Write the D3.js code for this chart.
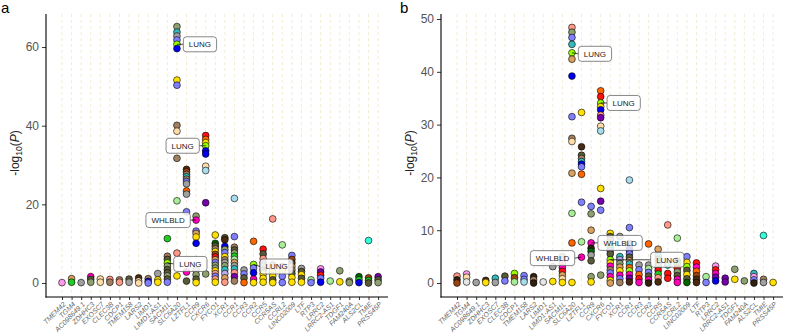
<!DOCTYPE html>
<html><head><meta charset="utf-8">
<script src="https://cdn.jsdelivr.net/npm/d3@7"></script>
<style>body{margin:0;background:#fff} svg{display:block}</style>
</head><body><svg id="c" width="789" height="335"></svg>
<script>
const genes = ["TMEM42","TGM4","AC098649.1","ZDHHC3","EXOSC7","CLEC3B","CDCP1","TMEM158","LARS2","LIMD1","LIMD1-AS1","SACM1L","SLC6A20","LZTFL1","CCR9","CXCR6","FYCO1","XCR1","CCR1","CCR3","CCR2","CCR5","CCR5AS","CCRL2","LINC02009","LTF","RTP3","LRRC2","LRRC2-AS1","TDGF1","FAM240A","ALS2CL","TMIE","PRSS45P"];

// tissue codes and their colours
const tissueCodes  = ["L","W","y","b","p","g","o","s","t","T","w","r","n","c","a","S","v","k","G","D","d","B","q","m","x","h","e"];
const tissueColors = ["#99FF00","#FF00BB","#FFE000","#0000EE","#8080FF","#A0A0A0","#5A5A38","#8FA070","#A08060","#D9A060","#FFDDA8","#FF1010","#FF6600","#33BBBB","#A8DDEE","#FF9988","#7700AA","#FF99EE","#22CC22","#006600","#4A2A10","#994411","#33FFDD","#A8EE98","#302010","#E6E6E6","#BBAAEE"];

// panel a: [gene, -log10(P), tissue]
const pointsA = [
 ["TMEM42",0.1,"k"],
 ["TGM4",1.1,"T"],["TGM4",0.2,"G"],
 ["AC098649.1",0.1,"g"],
 ["ZDHHC3",1.6,"W"],["ZDHHC3",0.9,"o"],["ZDHHC3",0.2,"s"],
 ["EXOSC7",1.0,"w"],["EXOSC7",0.2,"w"],
 ["CLEC3B",0.9,"S"],["CLEC3B",0.2,"t"],
 ["CDCP1",0.8,"t"],["CDCP1",0.2,"S"],
 ["TMEM158",1.0,"o"],["TMEM158",0.2,"g"],
 ["LARS2",1.3,"d"],["LARS2",0.5,"w"],["LARS2",0.0,"w"],
 ["LIMD1",1.1,"t"],["LIMD1",0.4,"b"],["LIMD1",0.0,"p"],
 ["LIMD1-AS1",2.4,"g"],["LIMD1-AS1",0.8,"y"],["LIMD1-AS1",0.2,"y"],
 ["SACM1L",11.3,"G"],["SACM1L",6.8,"t"],["SACM1L",6.0,"o"],["SACM1L",5.1,"L"],["SACM1L",4.3,"s"],["SACM1L",3.4,"o"],["SACM1L",2.6,"o"],["SACM1L",1.8,"s"],["SACM1L",1.0,"o"],["SACM1L",0.2,"p"],
 ["SLC6A20",65.2,"s"],["SLC6A20",63.8,"c"],["SLC6A20",62.8,"g"],["SLC6A20",61.8,"p"],["SLC6A20",60.7,"L"],["SLC6A20",59.6,"b"],["SLC6A20",51.6,"y"],["SLC6A20",50.3,"p"],["SLC6A20",40.1,"t"],["SLC6A20",38.6,"w"],["SLC6A20",31.7,"t"],["SLC6A20",20.9,"m"],["SLC6A20",7.6,"S"],["SLC6A20",1.8,"y"],
 ["LZTFL1",28.9,"d"],["LZTFL1",28.3,"B"],["LZTFL1",27.6,"t"],["LZTFL1",27.0,"c"],["LZTFL1",26.4,"t"],["LZTFL1",25.8,"p"],["LZTFL1",25.2,"g"],["LZTFL1",23.4,"n"],["LZTFL1",22.6,"g"],["LZTFL1",18.1,"p"],["LZTFL1",2.8,"W"],["LZTFL1",0.5,"o"],
 ["CCR9",17.0,"s"],["CCR9",16.0,"W"],["CCR9",13.2,"p"],["CCR9",12.6,"T"],["CCR9",11.7,"y"],["CCR9",10.1,"b"],["CCR9",3.3,"g"],["CCR9",2.1,"s"],["CCR9",1.0,"o"],["CCR9",0.1,"y"],
 ["CXCR6",37.5,"r"],["CXCR6",36.5,"n"],["CXCR6",35.7,"y"],["CXCR6",34.9,"L"],["CXCR6",33.6,"b"],["CXCR6",32.8,"b"],["CXCR6",29.7,"w"],["CXCR6",28.6,"a"],["CXCR6",20.4,"v"],["CXCR6",2.3,"s"],
 ["FYCO1",12.2,"y"],["FYCO1",10.1,"D"],["FYCO1",9.4,"o"],["FYCO1",8.7,"t"],["FYCO1",8.0,"y"],["FYCO1",7.3,"B"],["FYCO1",6.6,"r"],["FYCO1",5.9,"T"],["FYCO1",5.2,"p"],["FYCO1",4.5,"s"],["FYCO1",3.8,"s"],["FYCO1",3.1,"y"],["FYCO1",2.4,"S"],["FYCO1",1.7,"p"],["FYCO1",1.0,"S"],["FYCO1",0.2,"y"],
 ["XCR1",11.5,"o"],["XCR1",11.0,"d"],["XCR1",9.3,"b"],["XCR1",8.5,"s"],["XCR1",7.7,"p"],["XCR1",6.7,"y"],["XCR1",5.9,"t"],["XCR1",5.2,"g"],["XCR1",4.4,"s"],["XCR1",3.4,"c"],["XCR1",2.4,"e"],["XCR1",1.3,"T"],["XCR1",0.2,"S"],
 ["CCR1",21.5,"a"],["CCR1",11.8,"p"],["CCR1",9.1,"t"],["CCR1",8.4,"o"],["CCR1",7.6,"s"],["CCR1",6.8,"G"],["CCR1",6.0,"m"],["CCR1",5.2,"T"],["CCR1",4.4,"g"],["CCR1",3.6,"c"],["CCR1",2.6,"S"],["CCR1",1.6,"v"],["CCR1",0.5,"t"],
 ["CCR3",3.3,"g"],["CCR3",2.3,"p"],["CCR3",1.3,"o"],["CCR3",0.1,"n"],
 ["CCR2",10.6,"n"],["CCR2",4.7,"L"],["CCR2",3.8,"p"],["CCR2",2.6,"b"],["CCR2",1.0,"W"],["CCR2",0.1,"y"],
 ["CCR5",8.6,"r"],["CCR5",7.4,"o"],["CCR5",6.2,"S"],["CCR5",5.2,"t"],["CCR5",4.3,"s"],["CCR5",3.3,"o"],["CCR5",2.3,"y"],["CCR5",1.2,"y"],["CCR5",0.2,"y"],
 ["CCR5AS",16.3,"S"],["CCR5AS",4.6,"t"],["CCR5AS",3.6,"S"],["CCR5AS",2.8,"y"],["CCR5AS",1.8,"y"],["CCR5AS",0.8,"o"],["CCR5AS",0.1,"y"],
 ["CCRL2",9.7,"m"],["CCRL2",4.2,"e"],["CCRL2",3.0,"y"],["CCRL2",1.7,"p"],["CCRL2",0.1,"p"],
 ["LINC02009",7.0,"p"],["LINC02009",6.0,"B"],["LINC02009",5.1,"d"],["LINC02009",4.2,"T"],["LINC02009",3.3,"t"],["LINC02009",2.4,"o"],["LINC02009",1.4,"y"],["LINC02009",0.2,"y"],
 ["LTF",3.7,"g"],["LTF",2.9,"o"],["LTF",2.1,"y"],["LTF",1.2,"o"],["LTF",0.2,"y"],
 ["RTP3",0.8,"m"],["RTP3",0.1,"p"],
 ["LRRC2",3.6,"k"],["LRRC2",2.8,"v"],["LRRC2",2.0,"r"],["LRRC2",1.2,"p"],["LRRC2",0.2,"b"],
 ["LRRC2-AS1",0.5,"m"],
 ["TDGF1",3.1,"s"],["TDGF1",0.3,"y"],
 ["FAM240A",0.5,"s"],["FAM240A",0.1,"s"],
 ["ALS2CL",1.6,"D"],["ALS2CL",0.8,"G"],["ALS2CL",0.1,"b"],
 ["TMIE",10.8,"q"],["TMIE",1.3,"B"],["TMIE",0.6,"G"],["TMIE",0.0,"o"],
 ["PRSS45P",1.6,"v"],["PRSS45P",0.8,"o"],["PRSS45P",0.1,"s"]
];

// panel b: [gene, -log10(P), tissue]
const pointsB = [
 ["TMEM42",1.3,"S"],["TMEM42",0.6,"x"],["TMEM42",0.0,"B"],
 ["TGM4",1.7,"k"],["TGM4",1.1,"w"],["TGM4",0.2,"h"],
 ["AC098649.1",0.1,"g"],
 ["ZDHHC3",0.5,"d"],["ZDHHC3",0.1,"y"],
 ["EXOSC7",0.9,"c"],["EXOSC7",0.1,"g"],
 ["CLEC3B",1.3,"o"],["CLEC3B",0.4,"p"],
 ["CDCP1",1.8,"L"],["CDCP1",1.0,"B"],["CDCP1",0.2,"m"],
 ["TMEM158",1.4,"p"],["TMEM158",0.7,"p"],["TMEM158",0.2,"a"],
 ["LARS2",1.2,"x"],["LARS2",0.6,"t"],["LARS2",0.0,"x"],
 ["LIMD1",0.2,"h"],
 ["LIMD1-AS1",3.1,"g"],["LIMD1-AS1",0.3,"y"],
 ["SACM1L",5.0,"s"],["SACM1L",4.3,"t"],["SACM1L",3.6,"S"],["SACM1L",2.9,"W"],["SACM1L",2.2,"r"],["SACM1L",1.5,"T"],["SACM1L",0.8,"w"],["SACM1L",0.1,"y"],
 ["SLC6A20",48.4,"S"],["SLC6A20",47.5,"s"],["SLC6A20",46.5,"p"],["SLC6A20",45.2,"c"],["SLC6A20",43.6,"L"],["SLC6A20",42.4,"T"],["SLC6A20",39.2,"b"],["SLC6A20",31.5,"p"],["SLC6A20",27.4,"t"],["SLC6A20",26.8,"w"],["SLC6A20",20.8,"T"],["SLC6A20",13.2,"m"],["SLC6A20",7.6,"n"],["SLC6A20",0.1,"y"],
 ["LZTFL1",32.3,"y"],["LZTFL1",25.8,"d"],["LZTFL1",24.2,"o"],["LZTFL1",23.6,"t"],["LZTFL1",23.0,"c"],["LZTFL1",22.5,"b"],["LZTFL1",22.0,"p"],["LZTFL1",20.6,"n"],["LZTFL1",15.3,"p"],["LZTFL1",7.8,"m"],["LZTFL1",4.9,"W"],
 ["CCR9",14.5,"p"],["CCR9",13.1,"s"],["CCR9",10.0,"T"],["CCR9",7.6,"W"],["CCR9",6.6,"x"],["CCR9",6.0,"D"],["CCR9",5.3,"g"],["CCR9",4.2,"o"],["CCR9",1.2,"s"],["CCR9",0.2,"y"],
 ["CXCR6",36.4,"n"],["CXCR6",35.3,"r"],["CXCR6",34.1,"L"],["CXCR6",33.4,"y"],["CXCR6",32.8,"b"],["CXCR6",31.8,"S"],["CXCR6",31.3,"v"],["CXCR6",29.7,"w"],["CXCR6",28.8,"a"],["CXCR6",17.9,"y"],["CXCR6",15.5,"v"],["CXCR6",13.8,"p"],["CXCR6",1.5,"s"],
 ["FYCO1",9.4,"y"],["FYCO1",8.8,"o"],["FYCO1",8.1,"t"],["FYCO1",7.4,"y"],["FYCO1",6.8,"G"],["FYCO1",6.1,"p"],["FYCO1",5.5,"o"],["FYCO1",4.4,"L"],["FYCO1",3.8,"y"],["FYCO1",3.2,"W"],["FYCO1",2.5,"t"],["FYCO1",1.9,"p"],["FYCO1",1.2,"W"],["FYCO1",0.5,"y"],["FYCO1",0.0,"T"],
 ["XCR1",8.8,"g"],["XCR1",5.0,"c"],["XCR1",4.4,"e"],["XCR1",3.7,"s"],["XCR1",3.0,"T"],["XCR1",2.3,"y"],["XCR1",1.5,"W"],["XCR1",0.8,"p"],["XCR1",0.1,"t"],
 ["CCR1",19.5,"a"],["CCR1",10.5,"p"],["CCR1",7.5,"B"],["CCR1",6.8,"v"],["CCR1",6.2,"b"],["CCR1",5.5,"p"],["CCR1",4.9,"o"],["CCR1",4.2,"T"],["CCR1",3.6,"c"],["CCR1",2.9,"n"],["CCR1",2.3,"L"],["CCR1",1.6,"W"],["CCR1",0.9,"v"],["CCR1",0.2,"d"],
 ["CCR3",3.4,"g"],["CCR3",2.5,"p"],["CCR3",1.6,"n"],["CCR3",0.8,"r"],["CCR3",0.1,"W"],
 ["CCR2",7.4,"n"],["CCR2",3.4,"g"],["CCR2",2.7,"m"],["CCR2",2.0,"p"],["CCR2",1.3,"o"],["CCR2",0.6,"W"],["CCR2",0.0,"x"],
 ["CCR5",6.4,"T"],["CCR5",5.2,"c"],["CCR5",4.5,"o"],["CCR5",3.8,"t"],["CCR5",3.1,"s"],["CCR5",2.4,"r"],["CCR5",1.7,"G"],["CCR5",1.0,"S"],["CCR5",0.2,"d"],
 ["CCR5AS",11.0,"S"],["CCR5AS",3.4,"c"],["CCR5AS",1.8,"r"],["CCR5AS",0.9,"r"],
 ["CCRL2",8.5,"m"],["CCRL2",4.2,"o"],["CCRL2",3.5,"G"],["CCRL2",2.8,"r"],["CCRL2",2.1,"s"],["CCRL2",1.4,"o"],["CCRL2",0.7,"W"],["CCRL2",0.1,"W"],
 ["LINC02009",5.0,"p"],["LINC02009",3.9,"y"],["LINC02009",3.1,"L"],["LINC02009",2.4,"o"],["LINC02009",1.6,"y"],["LINC02009",0.8,"o"],["LINC02009",0.1,"D"],
 ["LTF",3.8,"r"],["LTF",3.0,"W"],["LTF",2.2,"n"],["LTF",1.4,"B"],["LTF",0.7,"d"],["LTF",0.1,"d"],
 ["RTP3",1.2,"m"],["RTP3",0.1,"p"],
 ["LRRC2",3.2,"k"],["LRRC2",2.5,"r"],["LRRC2",1.8,"W"],["LRRC2",1.1,"v"],["LRRC2",0.4,"b"],
 ["LRRC2-AS1",0.9,"v"],["LRRC2-AS1",0.2,"v"],
 ["TDGF1",2.6,"s"],["TDGF1",0.7,"y"],
 ["FAM240A",0.4,"s"],
 ["ALS2CL",1.8,"c"],["ALS2CL",1.2,"k"],["ALS2CL",0.6,"p"],["ALS2CL",0.0,"x"],
 ["TMIE",9.0,"q"],["TMIE",0.7,"t"],["TMIE",0.1,"g"],
 ["PRSS45P",0.1,"y"]
];

const ticksA = [0,20,40,60];
const ticksB = [0,10,20,30,40,50];

// labelled points: [gene, value, text]
const labelsA = [["SLC6A20",60.7,"LUNG"],["CXCR6",34.9,"LUNG"],["CCR9",16.0,"WHLBLD"],["SACM1L",5.1,"LUNG"],["CCR2",4.7,"LUNG"]];
const labelsB = [["SLC6A20",43.6,"LUNG"],["CXCR6",34.1,"LUNG"],["CCR9",7.6,"WHLBLD"],["LZTFL1",4.9,"WHLBLD"],["FYCO1",4.4,"LUNG"]];
// label box offsets (layout only)
const labelNudgeA = [[23,0],[-23,0],[-28,0],[23,1],[23,2]];
const labelNudgeB = [[23,1],[23,0],[29,0],[-29,1],[57,0]];

const FONT = "Liberation Sans, Arial, Helvetica, sans-serif";
const color = d3.scaleOrdinal().domain(tissueCodes).range(tissueColors);
const svg = d3.select("#c");

function drawPanel(opt) {
  const g = svg.append("g");
  const x = d3.scalePoint().domain(genes).range([opt.x0, opt.x1]);
  const y = d3.scaleLinear().domain(opt.yDomain).range([297, 14]);

  g.append("g").selectAll("line").data(genes).join("line")
    .attr("x1", d => x(d)).attr("x2", d => x(d)).attr("y1", 14).attr("y2", 297)
    .attr("stroke", "#EFE4C6").attr("stroke-width", 0.8).attr("stroke-dasharray", "3,3");

  const ya = g.append("g").attr("transform", `translate(${opt.axisX},0)`)
    .call(d3.axisLeft(y).tickValues(opt.ticks).tickSize(4).tickSizeOuter(0).tickPadding(3));
  ya.select(".domain").remove();
  ya.selectAll(".tick line").attr("stroke", "#333");
  ya.selectAll("text").attr("font-size", 12).attr("fill", "#555").attr("font-family", FONT);

  const xa = g.append("g").attr("transform", "translate(0,297)")
    .call(d3.axisBottom(x).tickSize(3).tickSizeOuter(0));
  xa.select(".domain").remove();
  xa.selectAll(".tick line").attr("stroke", "#333");
  xa.selectAll("text").attr("font-size", 7).attr("fill", "#666").attr("font-family", FONT)
    .attr("font-style", "italic").attr("text-anchor", "end")
    .attr("x", 0).attr("y", 0).attr("dy", "0.35em")
    .attr("transform", "translate(2,6) rotate(-45)");

  g.append("line").attr("x1", opt.axisX).attr("x2", opt.axisX).attr("y1", 14).attr("y2", 297.5)
    .attr("stroke", "#000").attr("stroke-width", 1.1);
  g.append("line").attr("x1", opt.axisX - 0.5).attr("x2", opt.axisRight).attr("y1", 297).attr("y2", 297)
    .attr("stroke", "#000").attr("stroke-width", 1.1);

  const sorted = opt.points.slice().sort((a, b) => b[1] - a[1]);
  g.append("g").selectAll("circle").data(sorted).join("circle")
    .attr("cx", d => x(d[0])).attr("cy", d => y(d[1])).attr("r", 3.4)
    .attr("fill", d => color(d[2])).attr("stroke", "#000").attr("stroke-width", 0.6);

  const lg = g.append("g");
  opt.labels.forEach((l, i) => {
    const px = x(l[0]), py = y(l[1]);
    const [dx, dy] = opt.nudge[i];
    const cx = px + dx, cy = py + dy;
    const t = lg.append("text").attr("x", cx).attr("y", cy).attr("dy", "0.36em")
      .attr("text-anchor", "middle").attr("font-size", 8).attr("font-family", FONT).attr("fill", "#222").text(l[2]);
    const w = t.node().getComputedTextLength() + 11, h = 15;
    const edge = dx > 0 ? cx - w / 2 : cx + w / 2;
    lg.insert("line", "text").attr("x1", px).attr("y1", py).attr("x2", edge).attr("y2", cy)
      .attr("stroke", "#000").attr("stroke-width", 0.7);
    lg.insert("rect", "text").attr("x", cx - w / 2).attr("y", cy - h / 2).attr("width", w).attr("height", h)
      .attr("rx", 3).attr("fill", "#fff").attr("fill-opacity", 0.85).attr("stroke", "#555").attr("stroke-width", 0.7);
  });

  const tt = g.append("text").attr("transform", `translate(${opt.titleX},153) rotate(-90)`)
    .attr("text-anchor", "middle").attr("font-size", 12).attr("font-family", FONT).attr("fill", "#222");
  tt.append("tspan").text("-log");
  tt.append("tspan").attr("font-size", 8.5).attr("dy", 3).text("10");
  tt.append("tspan").attr("dy", -3).text("(");
  tt.append("tspan").attr("font-style", "italic").text("P");
  tt.append("tspan").text(")");

  svg.append("text").attr("x", opt.letterX).attr("y", 13).attr("font-size", 15).attr("font-family", FONT)
    .attr("fill", "#000").text(opt.letter);
}

drawPanel({x0: 62, x1: 378.1, axisX: 46, axisRight: 388, yDomain: [-3.56, 68.4], ticks: ticksA,
  points: pointsA, labels: labelsA, nudge: labelNudgeA, titleX: 19, letter: "a", letterX: 1});
drawPanel({x0: 457, x1: 773.1, axisX: 441, axisRight: 783, yDomain: [-2.65, 50.95], ticks: ticksB,
  points: pointsB, labels: labelsB, nudge: labelNudgeB, titleX: 414, letter: "b", letterX: 400});
</script></body></html>
